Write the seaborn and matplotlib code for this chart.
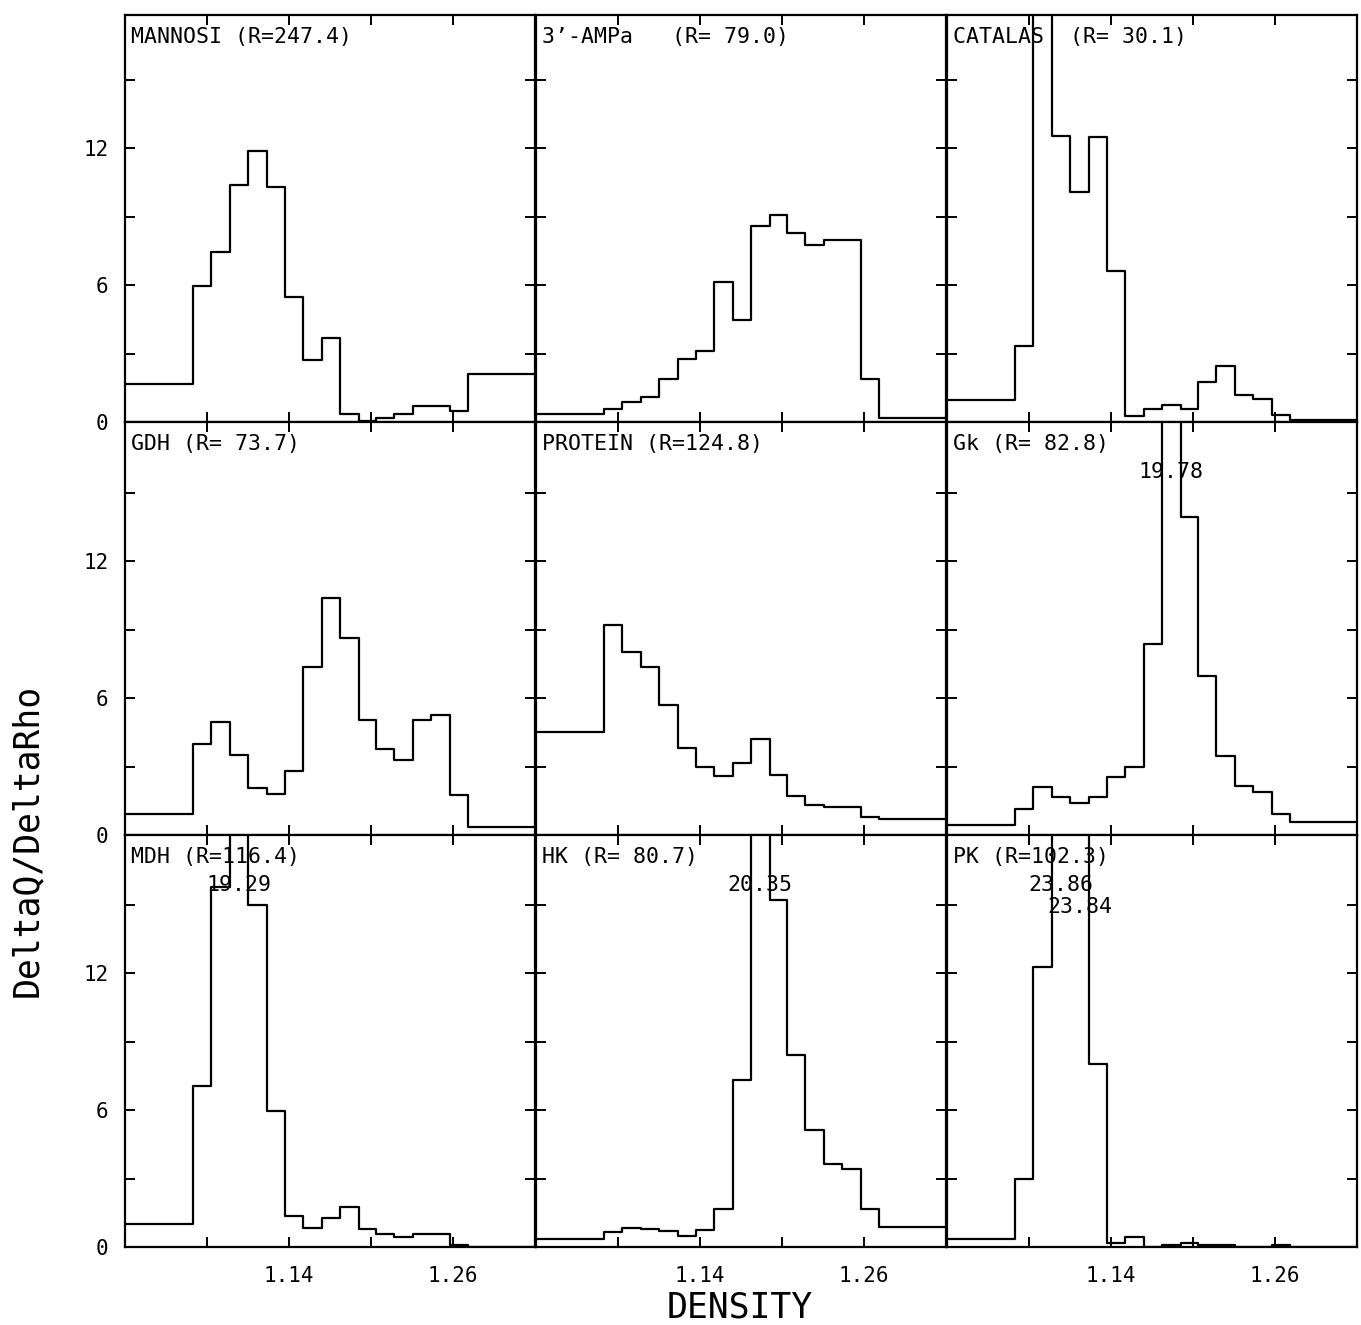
import numpy as np
import pandas as pd
import matplotlib
matplotlib.use("Agg")
import matplotlib.pyplot as plt
import seaborn as sns

# ---------------- data ----------------
density_edges = [1.02, 1.070, 1.083, 1.097, 1.110, 1.124, 1.137, 1.150, 1.164,
                 1.177, 1.191, 1.204, 1.217, 1.231, 1.244, 1.258, 1.271, 1.32]

panel_titles = ["MANNOSI (R=247.4)", "3’-AMPa   (R= 79.0)", "CATALAS  (R= 30.1)",
                "GDH (R= 73.7)", "PROTEIN (R=124.8)", "Gk (R= 82.8)",
                "MDH (R=116.4)", "HK (R= 80.7)", "PK (R=102.3)"]

mannosi = [1.65, 5.97, 7.44, 10.4, 11.9, 10.3, 5.5, 2.7, 3.7, 0.37, 0.03, 0.18, 0.37, 0.7, 0.7, 0.47, 2.1]
ampa = [0.37, 0.56, 0.88, 1.1, 1.9, 2.78, 3.11, 6.15, 4.46, 8.6, 9.08, 8.27, 7.75, 8.0, 8.0, 1.87, 0.19]
catalas = [0.98, 3.32, 17.95, 12.56, 10.1, 12.49, 6.63, 0.25, 0.59, 0.76, 0.56, 1.76, 2.44, 1.2, 1.02, 0.29, 0.07]
gdh = [0.9, 4.0, 4.97, 3.52, 2.04, 1.79, 2.81, 7.35, 10.4, 8.65, 5.05, 3.78, 3.27, 5.06, 5.27, 1.77, 0.36]
protein = [4.51, 9.23, 8.04, 7.39, 5.69, 3.8, 3.0, 2.6, 3.15, 4.19, 2.64, 1.73, 1.32, 1.22, 1.22, 0.81, 0.68]
gk = [0.42, 1.15, 2.12, 1.68, 1.39, 1.68, 2.53, 2.99, 8.36, 19.78, 13.96, 6.98, 3.47, 2.16, 1.9, 0.9, 0.57]
mdh = [0.99, 7.07, 15.8, 19.29, 15.0, 5.96, 1.35, 0.84, 1.28, 1.76, 0.77, 0.55, 0.44, 0.55, 0.55, 0.09, 0.02]
hk = [0.37, 0.66, 0.83, 0.78, 0.69, 0.48, 0.73, 1.68, 7.32, 20.35, 15.2, 8.42, 5.12, 3.62, 3.4, 1.65, 0.88]
pk = [0.34, 2.97, 12.27, 23.86, 23.84, 8.02, 0.19, 0.44, 0.01, 0.07, 0.19, 0.1, 0.1, 0.02, 0.02, 0.1, 0.02]

series = [mannosi, ampa, catalas, gdh, protein, gk, mdh, hk, pk]

x_ticks = [1.08, 1.14, 1.20, 1.26]
x_ticklabels = ["", "1.14", "", "1.26"]
y_ticks = [0, 3, 6, 9, 12, 15]
y_ticklabels = ["0", "", "6", "", "12", ""]

# ---------------- style ----------------
sns.set_theme(style="white")
plt.rcParams['font.family'] = ['DejaVu Sans Mono', 'DejaVu Sans']

W, H = 1361, 1325
fig = plt.figure(figsize=(W / 100, H / 100), dpi=100)
fig.patch.set_facecolor("white")

col_left = [125, 536, 947]
row_top = [15, 422, 835]
row_bottom = [422, 835, 1247]
pw = 410
PX_PER_UNIT = 22.8
LABEL_ABOVE = 18.0
LW = 1.6

edges = np.array(density_edges)
centers = (edges[:-1] + edges[1:]) / 2

for i, vals in enumerate(series):
    r, c = divmod(i, 3)
    ph = row_bottom[r] - row_top[r]
    ymax = ph / PX_PER_UNIT
    ax = fig.add_axes([col_left[c] / W, 1 - row_bottom[r] / H, pw / W, ph / H])
    df = pd.DataFrame({"density": centers, "dq": vals})
    sns.histplot(data=df, x="density", weights="dq", bins=density_edges,
                 element="step", fill=False, color="black", linewidth=LW, ax=ax)
    ax.set_xlim(edges[0], edges[-1])
    ax.set_ylim(0, ymax)
    ax.set_xlabel("")
    ax.set_ylabel("")
    for s in ax.spines.values():
        s.set_color("black")
        s.set_linewidth(LW)
    ax.set_xticks(x_ticks)
    ax.set_xticklabels(x_ticklabels if r == 2 else [""] * len(x_ticks))
    ax.set_yticks(y_ticks)
    ax.set_yticklabels(y_ticklabels if c == 0 else [""] * len(y_ticks))
    ax.tick_params(axis="both", which="major", direction="in", length=7, width=1.4,
                   top=True, right=True, bottom=True, left=True,
                   labelsize=15, colors="black")
    ax.tick_params(axis="y", pad=12)
    ax.tick_params(axis="x", pad=14)
    ax.set_facecolor("white")
    ax.grid(False)

    ax.text(0.015, 1 - 22 / ph, panel_titles[i], transform=ax.transAxes,
            ha="left", va="center", fontsize=15.5, color="black")

    # off-scale bins get their value written near the top
    k = 0
    for xc, v in zip(centers, vals):
        if v > LABEL_ABOVE:
            ax.text(xc, ymax - (50 + 22 * k) / PX_PER_UNIT, f"{v:.2f}",
                    ha="center", va="center", fontsize=15.5, color="black")
            k += 1

fig.text(27 / W, 1 - 840 / H, "DeltaQ/DeltaRho", rotation=90, ha="center",
         va="center", fontsize=25, color="black")
fig.text(740 / W, 1 - 1307 / H, "DENSITY", ha="center", va="center",
         fontsize=25, color="black")

fig.savefig("out.png", dpi=100, facecolor="white")
